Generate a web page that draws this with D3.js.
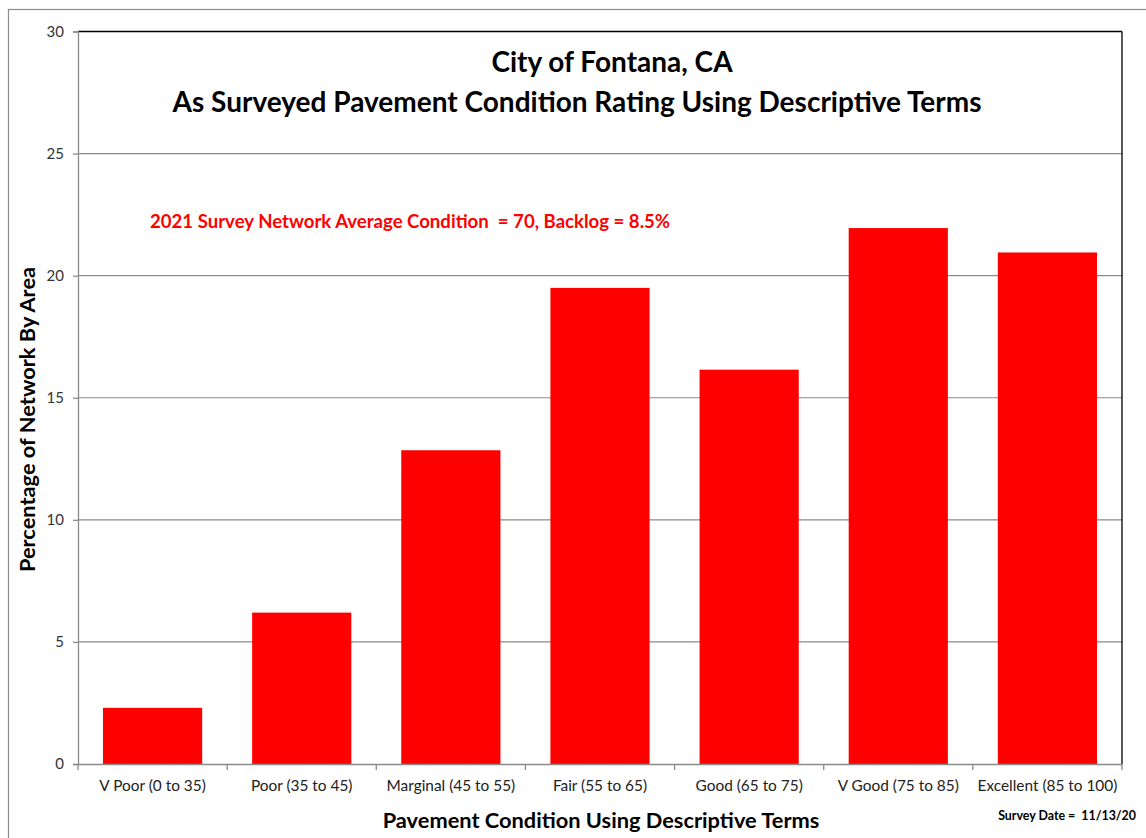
<!DOCTYPE html>
<html><head><meta charset="utf-8">
<script src="https://cdn.jsdelivr.net/npm/d3@7"></script>
<style>body{margin:0;background:#fff;} svg{display:block;font-family:Lato,"Open Sans",sans-serif;}</style>
</head><body>
<svg id="c" width="1146" height="838"></svg>
<script>
const categories = ["V Poor (0 to 35)","Poor (35 to 45)","Marginal (45 to 55)","Fair (55 to 65)","Good (65 to 75)","V Good (75 to 85)","Excellent (85 to 100)"];
const values = [2.3, 6.2, 12.85, 19.5, 16.15, 21.95, 20.95];
const yTicks = [0,5,10,15,20,25,30];
const titleLines = ["City of Fontana, CA","As Surveyed Pavement Condition Rating Using Descriptive Terms"];
const annotation = "2021 Survey Network Average Condition  = 70, Backlog = 8.5%";
const xTitle = "Pavement Condition Using Descriptive Terms";
const yTitle = "Percentage of Network By Area";
const surveyDate = "Survey Date =  11/13/20";

const svg = d3.select("#c");
const L=78, R=1122, T=31.5, B=764;
svg.append("rect").attr("x",8.5).attr("y",9.5).attr("width",1160).attr("height",850).attr("fill","none").attr("stroke","#8c8c8c").attr("stroke-width",1.2);

const x = d3.scaleBand().domain(categories).range([L,R]).paddingInner(0.335).paddingOuter(0.335/2);
const y = d3.scaleLinear().domain([0,30]).range([B,T]);

svg.append("g").selectAll("line").data(yTicks.filter(d=>d>0&&d<30)).join("line")
  .attr("x1",L).attr("x2",R).attr("y1",d=>y(d)).attr("y2",d=>y(d)).attr("stroke","#8a8a8a").attr("stroke-width",1.2);

svg.append("g").selectAll("rect").data(values).join("rect")
  .attr("x",(d,i)=>x(categories[i])).attr("width",x.bandwidth())
  .attr("y",d=>y(d)).attr("height",d=>B-y(d)).attr("fill","#ff0000");

svg.append("line").attr("x1",L).attr("x2",R).attr("y1",T).attr("y2",T).attr("stroke","#000").attr("stroke-width",1.3);
svg.append("line").attr("x1",R).attr("x2",R).attr("y1",T).attr("y2",B).attr("stroke","#000").attr("stroke-width",1.3);

const yAxis = d3.axisLeft(y).tickValues(yTicks).tickSize(5).tickPadding(9);
const gy = svg.append("g").attr("transform",`translate(${L},0)`).call(yAxis);
gy.select(".domain").attr("stroke","#8a8a8a").attr("stroke-width",1.3);
gy.selectAll(".tick line").attr("stroke","#8a8a8a").attr("stroke-width",1.3);
gy.selectAll(".tick text").attr("font-size",15).attr("fill","#333").attr("font-family","Lato,'Open Sans',sans-serif");

const xAxis = d3.axisBottom(x).tickSize(0).tickPadding(16);
const gx = svg.append("g").attr("transform",`translate(0,${B})`).call(xAxis);
gx.select(".domain").attr("stroke","#8a8a8a").attr("stroke-width",1.3);
gx.selectAll(".tick text").attr("font-size",15.4).attr("fill","#222").attr("font-family","Lato,'Open Sans',sans-serif");
const step = x.step();
const bounds = d3.range(categories.length+1).map(i=>L+i*step);
svg.append("g").selectAll("line").data(bounds).join("line")
  .attr("x1",d=>d).attr("x2",d=>d).attr("y1",B).attr("y2",B+6).attr("stroke","#8a8a8a").attr("stroke-width",1.3);

const titleX = [612, 577];
svg.append("g").selectAll("text").data(titleLines).join("text")
  .attr("x",(d,i)=>titleX[i]).attr("y",(d,i)=>72+i*40).attr("text-anchor","middle")
  .attr("font-size",28).attr("font-weight","bold").attr("fill","#000").text(d=>d);

svg.append("text").attr("x",150).attr("y",228).attr("font-size",18.6).attr("font-weight","bold").attr("fill","#ff0000").style("white-space","pre").text(annotation);

svg.append("text").attr("x",601).attr("y",828).attr("text-anchor","middle").attr("font-size",21.8).attr("font-weight","bold").attr("fill","#000").text(xTitle);
svg.append("text").attr("transform","translate(35,419.5) rotate(-90)").attr("text-anchor","middle").attr("font-size",21.8).attr("font-weight","bold").attr("fill","#000").text(yTitle);
svg.append("text").attr("x",1136).attr("y",820).attr("text-anchor","end").attr("font-size",12.4).attr("font-weight","bold").attr("fill","#000").style("white-space","pre").text(surveyDate);
</script>
</body></html>
